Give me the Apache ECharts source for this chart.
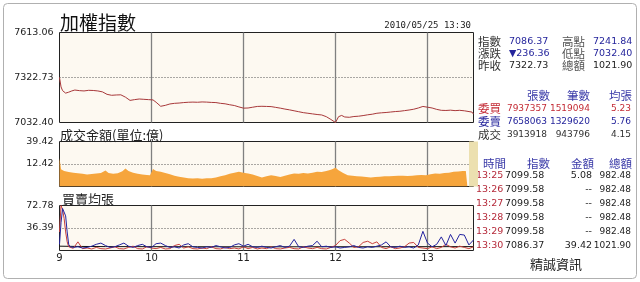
<!DOCTYPE html>
<html>
<head>
<meta charset="utf-8">
<script src="https://cdn.jsdelivr.net/npm/echarts@6/dist/echarts.min.js"></script>
<style>
html,body{margin:0;padding:0;background:#fff;}
#c{width:640px;height:282px;}
</style>
</head>
<body>
<div id="c"></div>
<script>
// ---------- data ----------
const hourLabels = ['9', '10', '11', '12', '13'];
const prevClose = 7322.73;
const idxTicks = [7032.40, 7322.73, 7613.06];
const volTicks = [0, 12.42, 24.84];
const volTickLabels = ['', '12.42', '39.42'];
const avgTicks = [0, 36.39, 72.78];

// minutes after 9:00
const idxMin = [0,1,2,4,6,8,10,13,16,19,22,25,28,31,34,37,40,43,46,49,52,55,58,61,63,66,69,72,75,78,81,84,87,90,93,96,99,102,105,108,111,114,117,120,123,126,129,132,135,138,141,144,147,150,153,156,159,162,165,168,171,174,177,180,182,184,186,189,192,195,198,201,204,207,210,213,216,219,222,225,228,231,234,237,240,243,246,249,252,255,258,261,264,265,269,270];
const idxVal = [7322.73,7262,7238,7222,7228,7236,7241.84,7238,7236,7240,7239,7236,7230,7214,7208,7210,7211,7196,7175,7180,7184,7182,7180,7178,7163,7137,7143,7152,7156,7158,7161,7163,7164,7163,7165,7164,7162,7161,7156,7153,7147,7142,7133,7125,7126,7131,7136,7137,7136,7135,7130,7125,7119,7114,7108,7102,7096,7092,7088,7084,7081,7070,7052,7032.40,7070,7078,7068,7066,7071,7073,7077,7082,7086,7092,7095,7097,7100,7103,7105,7109,7113,7118,7126,7136,7131,7126,7117,7111,7110,7112,7109,7111,7108,7099.58,7099.58,7086.37];

const volMin = [0,1,3,6,9,12,15,18,21,24,27,30,32,35,38,41,43,45,48,51,54,57,59,61,63,66,69,72,75,78,81,84,87,90,93,96,99,102,105,108,111,114,117,120,123,126,129,132,135,138,141,144,147,150,153,156,159,162,165,168,171,174,177,180,182,185,188,191,194,197,200,203,206,209,212,215,218,221,224,227,230,233,236,239,242,245,248,251,254,257,260,263,265,266,269];
const volVal = [15.8,9.5,8.6,8.0,7.6,7.3,7.0,6.6,6.9,7.2,7.4,8.8,7.4,7.1,7.3,8.4,10.0,8.6,7.6,7.0,6.6,6.3,6.2,9.6,8.6,8.1,7.4,6.8,5.9,5.4,5.0,4.6,4.4,4.5,4.3,4.6,4.5,5.0,5.6,6.2,7.0,7.6,8.1,7.6,7.2,6.6,5.8,5.0,5.6,6.2,5.8,5.3,6.0,6.6,7.2,7.0,7.4,7.2,7.6,8.1,8.0,8.5,9.2,10.3,9.0,7.4,6.2,6.0,5.7,5.5,5.3,5.0,5.2,5.4,5.7,5.6,5.8,5.9,6.0,5.8,6.0,6.2,6.4,6.2,6.8,7.2,7.0,7.4,7.6,8.1,8.3,8.6,8.6,0,0];
const closeVolMin = [270];
const closeVolVal = [39.42];

const avgMin = [0,1,2,3,4,5,6,7,
  9,12,15,18,21,24,27,30,33,36,
  39,42,45,48,51,54,57,60,63,66,
  69,72,75,78,81,84,87,90,93,96,
  99,102,105,108,111,114,117,120,123,126,
  129,132,135,138,141,144,147,150,153,156,
  159,162,165,168,171,174,177,180,183,186,
  189,192,195,198,201,204,207,210,213,216,
  219,222,225,228,231,234,237,240,243,246,
  249,252,255,258,261,264,267,270];
const buyAvg = [30,72.78,66,52,30,14,6,4,
  3.5,14,3,4,2.5,5,3,2.5,4,6,
  3,2.5,5,7,3,2.5,6,4,3,5,
  2.5,3,8,10,4,6,3,2.5,4,3,
  6,3,2.5,5,3,4,2.5,6,3,5,
  2.5,4,3,6,3,2.5,4,5,3,2.5,
  6,4,3,5,3,2.5,5,8,16,18,
  12,5,6,13,15,11,14,5,3,6,
  3,4,6,12,13,5,4,3,6,3,
  5,10,6,4,7,5,3,6];
const sellAvg = [10,45,68,70,56,30,10,6,
  5,6,4,5,7,10,12,8,5,6,
  9,12,7,5,8,10,6,5,11,12,
  8,5,6,4,9,11,6,5,4,6,
  5,8,6,4,5,9,11,7,10,6,
  5,7,5,4,6,8,5,7,18,6,
  5,7,8,15,6,7,5,6,4,5,
  6,8,5,4,6,5,7,9,14,6,
  5,7,5,6,4,9,31,12,6,10,
  22,8,26,12,26,25,9,17];
const dealMin = [0,10,30,60,90,120,150,180,210,240,270];
const dealAvg = [7,6.6,6.3,6.2,6.1,6.0,6.0,6.1,6.1,6.2,6.3];

const quoteRows = [
  ['指數', '7086.37', '高點', '7241.84'],
  ['漲跌', '▼236.36', '低點', '7032.40'],
  ['昨收', '7322.73', '總額', '1021.90']
];
const bidHeader = ['張數', '筆數', '均張'];
const bidRows = [
  ['委買', '7937357', '1519094', '5.23'],
  ['委賣', '7658063', '1329620', '5.76'],
  ['成交', '3913918', '943796', '4.15']
];
const tickHeader = ['時間', '指數', '金額', '總額'];
const tickRows = [
  ['13:25', '7099.58', '5.08', '982.48'],
  ['13:26', '7099.58', '--', '982.48'],
  ['13:27', '7099.58', '--', '982.48'],
  ['13:28', '7099.58', '--', '982.48'],
  ['13:29', '7099.58', '--', '982.48'],
  ['13:30', '7086.37', '39.42', '1021.90']
];
const titleText = '加權指數';
const dateText = '2010/05/25 13:30';
const volTitle = '成交金額(單位:億)';
const avgTitle = '買賣均張';
const sourceText = '精誠資訊';

// ---------- build ----------
const zip = (xs, ys) => xs.map((x, i) => [x, ys[i]]);
const CJK = '"Noto Sans CJK TC"';
const NUM = '"DejaVu Sans"';
const BLUE = '#25259c', RED = '#c42c36', DARK = '#222', HEAD = '#3a3aa8', LAB = '#333';

const gridBase = {left: 59.5, width: 414, show: true, backgroundColor: '#fdf9f1',
  borderColor: '#222', borderWidth: 1};
const grids = [
  Object.assign({top: 32.5, height: 90}, gridBase),
  Object.assign({top: 141.5, height: 45}, gridBase),
  Object.assign({top: 205.5, height: 45}, gridBase)
];

function xAx(i, showLabel) {
  return {type: 'value', gridIndex: i, min: 0, max: 270, interval: 60,
    axisLine: {show: false}, axisTick: {show: false},
    axisLabel: {show: showLabel, color: DARK, fontFamily: NUM, fontSize: 10, margin: 3,
      formatter: v => (v % 60 === 0 ? hourLabels[v / 60] : ''), showMaxLabel: false},
    splitLine: {show: true, showMinLine: false, showMaxLine: false,
      lineStyle: {color: '#808080', width: 1.3}}};
}
function yAx(i, min, max, fmt) {
  return {type: 'value', gridIndex: i, min: min, max: max, interval: (max - min) / 2,
    axisLine: {show: false}, axisTick: {show: false},
    axisLabel: {color: DARK, fontFamily: NUM, fontSize: 9.5, margin: 6, formatter: fmt},
    splitLine: {show: true, showMinLine: false, showMaxLine: false,
      lineStyle: {color: '#555', type: [1, 2], width: 1}}};
}

const graphics = [];
function txt(text, x, y, font, fill, align) {
  graphics.push({type: 'text', x: x, y: y, silent: true,
    style: {text: text, font: font, fill: fill, textAlign: align || 'left', align: align || 'left',
      textVerticalAlign: 'middle', verticalAlign: 'middle'}});
}
txt(titleText, 60, 23, '19px ' + CJK, '#111');
txt(dateText, 471, 26, '9px "DejaVu Sans Mono"', DARK, 'right');
txt(volTitle, 60, 135, '13px ' + CJK, DARK);
txt(avgTitle, 62, 199, '13px ' + CJK, DARK);

const CJKS = '11.5px ' + CJK;
const quoteY = [42, 54, 66];
const quoteColors = [[LAB, BLUE, '#555', BLUE], [LAB, BLUE, '#555', BLUE], [LAB, DARK, '#555', DARK]];
quoteRows.forEach((r, i) => {
  txt(r[0], 478, quoteY[i], CJKS, quoteColors[i][0]);
  txt(r[1], 509, quoteY[i], '9.5px ' + NUM, quoteColors[i][1]);
  txt(r[2], 562, quoteY[i], CJKS, quoteColors[i][2]);
  txt(r[3], 593, quoteY[i], '9.5px ' + NUM, quoteColors[i][3]);
});
const bidRight = [550, 590, 632];
bidHeader.forEach((h, j) => txt(h, bidRight[j], 96, CJKS, HEAD, 'right'));
const bidY = [109, 122, 135];
const bidColor = [RED, BLUE, LAB];
const bidNumRight = [547, 590, 631];
bidRows.forEach((r, i) => {
  txt(r[0], 478, bidY[i], CJKS, bidColor[i]);
  for (let j = 1; j < 4; j++) txt(r[j], bidNumRight[j - 1], bidY[i], '9px ' + NUM, bidColor[i], 'right');
});
txt(tickHeader[0], 483, 164, CJKS, HEAD);
txt(tickHeader[1], 550, 164, CJKS, HEAD, 'right');
txt(tickHeader[2], 594, 164, CJKS, HEAD, 'right');
txt(tickHeader[3], 632, 164, CJKS, HEAD, 'right');
tickRows.forEach((r, i) => {
  const y = 176 + 14 * i;
  txt(r[0], 476, y, '9.5px ' + NUM, '#b52a3a');
  txt(r[1], 505, y, '9.5px ' + NUM, DARK);
  txt(r[2], 592, y, '9.5px ' + NUM, DARK, 'right');
  txt(r[3], 631, y, '9px ' + NUM, DARK, 'right');
});
txt(sourceText, 556, 264, '13px ' + CJK, DARK, 'center');
graphics.unshift({type: 'rect', silent: true, z: -10,
  shape: {x: 3.5, y: 3.5, width: 633, height: 275, r: 4},
  style: {fill: '#fff', stroke: '#b0b0b0', lineWidth: 1}});

const chart = echarts.init(document.getElementById('c'), null, {renderer: 'canvas'});
chart.setOption({
  animation: false,
  backgroundColor: '#fff',
  grid: grids,
  xAxis: [xAx(0, false), xAx(1, false), xAx(2, true)],
  yAxis: [
    yAx(0, idxTicks[0] - prevClose, idxTicks[2] - prevClose, v => (v + prevClose).toFixed(2)),
    yAx(1, volTicks[0], volTicks[2], v => volTickLabels[Math.round(v / volTicks[1])]),
    yAx(2, avgTicks[0], avgTicks[2], v => (v === 0 ? '' : v.toFixed(2)))
  ],
  graphic: graphics,
  series: [
    {type: 'line', xAxisIndex: 0, yAxisIndex: 0, showSymbol: false, silent: true,
      data: zip(idxMin, idxVal.map(v => v - prevClose)),
      lineStyle: {color: '#a8383a', width: 1}},
    {type: 'line', xAxisIndex: 1, yAxisIndex: 1, showSymbol: false, silent: true,
      data: zip(volMin, volVal), lineStyle: {width: 0}, areaStyle: {color: '#f6a53c', opacity: 1}},
    {type: 'bar', xAxisIndex: 1, yAxisIndex: 1, silent: true, barWidth: 9,
      data: zip(closeVolMin, closeVolVal), itemStyle: {color: '#ece0b0'}},
    {type: 'line', xAxisIndex: 2, yAxisIndex: 2, showSymbol: false, silent: true,
      data: zip(dealMin, dealAvg), lineStyle: {color: '#111', width: 1}},
    {type: 'line', xAxisIndex: 2, yAxisIndex: 2, showSymbol: false, silent: true,
      data: zip(avgMin, buyAvg), lineStyle: {color: '#c8403c', width: 1}},
    {type: 'line', xAxisIndex: 2, yAxisIndex: 2, showSymbol: false, silent: true,
      data: zip(avgMin, sellAvg), lineStyle: {color: '#2424a0', width: 1}}
  ]
});
</script>
</body>
</html>
